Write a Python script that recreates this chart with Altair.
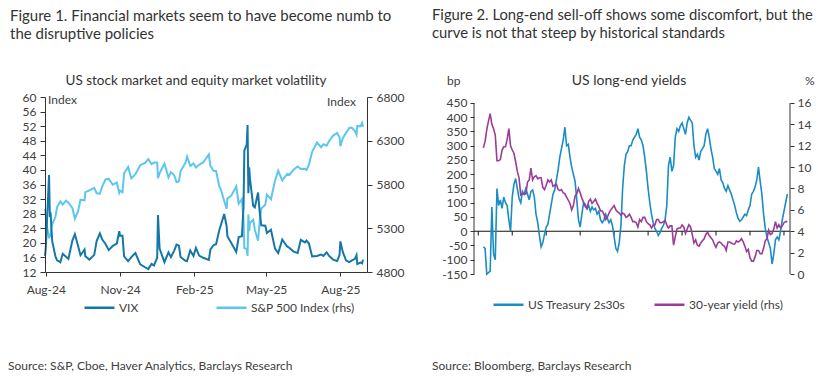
import altair as alt
import pandas as pd

FONT = "Lato"
TXT = "#333333"
LBL = "#404040"

# ---------------- Figure 1 data: VIX and S&P 500 ----------------
fig1_dates = [
    "2024-07-31", "2024-08-01", "2024-08-02", "2024-08-05", "2024-08-06", "2024-08-07", "2024-08-08",
    "2024-08-09", "2024-08-13", "2024-08-15", "2024-08-19", "2024-08-22", "2024-08-26", "2024-08-29",
    "2024-09-03", "2024-09-06", "2024-09-10", "2024-09-13", "2024-09-18", "2024-09-19", "2024-09-24",
    "2024-09-30", "2024-10-03", "2024-10-07", "2024-10-10", "2024-10-14", "2024-10-18", "2024-10-23",
    "2024-10-28", "2024-10-31", "2024-11-01", "2024-11-04", "2024-11-06", "2024-11-11", "2024-11-15",
    "2024-11-20", "2024-11-26", "2024-12-02", "2024-12-06", "2024-12-10", "2024-12-13", "2024-12-17",
    "2024-12-18", "2024-12-20", "2024-12-26", "2024-12-31", "2025-01-03", "2025-01-07", "2025-01-10",
    "2025-01-13", "2025-01-15", "2025-01-21", "2025-01-23", "2025-01-27", "2025-01-31", "2025-02-03",
    "2025-02-07", "2025-02-12", "2025-02-19", "2025-02-21", "2025-02-25", "2025-02-28", "2025-03-04",
    "2025-03-06", "2025-03-10", "2025-03-13", "2025-03-14", "2025-03-19", "2025-03-25", "2025-03-28",
    "2025-04-01", "2025-04-03", "2025-04-04", "2025-04-07", "2025-04-08", "2025-04-09", "2025-04-10",
    "2025-04-11", "2025-04-15", "2025-04-17", "2025-04-21", "2025-04-23", "2025-04-25", "2025-04-30",
    "2025-05-02", "2025-05-07", "2025-05-12", "2025-05-16", "2025-05-21", "2025-05-27", "2025-05-30",
    "2025-06-04", "2025-06-09", "2025-06-13", "2025-06-18", "2025-06-20", "2025-06-23", "2025-06-27",
    "2025-07-03", "2025-07-08", "2025-07-11", "2025-07-15", "2025-07-18", "2025-07-23", "2025-07-28",
    "2025-07-31", "2025-08-01", "2025-08-04", "2025-08-08", "2025-08-12", "2025-08-15", "2025-08-19",
    "2025-08-21", "2025-08-22", "2025-08-26", "2025-08-28", "2025-08-29",
]
vix = [
    16.4, 18.6, 23.4, 38.6, 27.7, 27.9, 23.8,
    20.4, 16.2, 15.2, 14.7, 17.0, 16.2, 15.6,
    20.7, 22.4, 19.1, 16.6, 18.2, 16.3, 15.4,
    16.7, 20.5, 22.6, 20.9, 19.7, 18.0, 19.2,
    19.8, 23.2, 21.9, 22.0, 16.3, 15.0, 16.1,
    17.2, 14.1, 13.3, 12.8, 14.2, 13.8, 15.9,
    27.6, 18.4, 14.7, 17.4, 16.1, 17.8, 19.5,
    19.2, 16.1, 15.1, 15.0, 17.9, 16.4, 18.6,
    16.5, 15.9, 15.3, 18.2, 19.4, 19.6, 23.5,
    24.9, 27.9, 24.7, 21.8, 19.9, 17.5, 21.6,
    21.8, 30.0, 45.3, 47.0, 52.3, 33.6, 40.7,
    37.6, 30.1, 29.7, 33.8, 28.5, 24.8, 24.7,
    22.7, 23.6, 18.4, 17.2, 20.9, 19.0, 18.6,
    17.6, 17.2, 20.8, 20.1, 20.6, 19.8, 16.3,
    16.4, 16.8, 16.4, 17.4, 16.4, 15.4, 15.0,
    16.7, 20.4, 17.5, 15.2, 14.7, 15.1, 15.6,
    16.6, 14.2, 14.6, 14.4, 15.4,
]
spx = [
    5522, 5446, 5346, 5186, 5240, 5199, 5319,
    5344, 5434, 5543, 5608, 5571, 5616, 5592,
    5529, 5408, 5496, 5626, 5618, 5713, 5732,
    5762, 5700, 5696, 5780, 5859, 5864, 5797,
    5823, 5705, 5729, 5712, 5929, 6001, 5870,
    5917, 6021, 6047, 6090, 6034, 6051, 6051,
    5872, 5930, 6037, 5882, 5942, 5909, 5827,
    5836, 5950, 6049, 6119, 6012, 6041, 5994,
    6026, 6052, 6144, 6013, 5955, 5955, 5778,
    5739, 5615, 5522, 5639, 5675, 5777, 5581,
    5633, 5397, 5074, 5062, 4983, 5457, 5268,
    5363, 5397, 5283, 5158, 5376, 5525, 5569,
    5686, 5631, 5844, 5958, 5845, 5922, 5912,
    5970, 6006, 5977, 5981, 5967, 6025, 6173,
    6279, 6226, 6260, 6244, 6297, 6359, 6390,
    6339, 6238, 6330, 6389, 6446, 6450, 6411,
    6370, 6467, 6465, 6502, 6460,
]
fig1_series = ["VIX", "S&P 500 Index (rhs)"]
fig1_colors = ["#1577a8", "#5cc6ee"]
fig1_month_ticks = ["2024-08-01", "2024-11-01", "2025-02-01", "2025-05-01", "2025-08-01"]
fig1_range = ["2024-07-31", "2025-09-03"]
vix_ticks = [12, 16, 20, 24, 28, 32, 36, 40, 44, 48, 52, 56, 60]
spx_ticks = [4800, 5300, 5800, 6300, 6800]

# ---------------- Figure 2 data: 2s30s and 30y yield (quarterly, from 1980Q4) ----------------
spread_2s30s = [
    -55,
    -60, -150, -145, -140,   # 1981
    85, -80, -100, 150,      # 1982
    90, 110, 80, 120,        # 1983
    100, 90, 40, 0,          # 1984
    120, 165, 185, 150,      # 1985
    115, 100, 140, 130,      # 1986
    150, 130, 110, 140,      # 1987
    145, 120, 60, 30,        # 1988
    -15, -55, -40, -10,      # 1989
    15, 25, 60, 95,          # 1990
    130, 145, 180, 215,      # 1991
    260, 290, 320, 365,      # 1992
    300, 305, 260, 225,      # 1993
    200, 175, 110, 40,       # 1994
    15, 60, 100, 95,         # 1995
    80, 90, 70, 85,          # 1996
    75, 80, 60, 70,          # 1997
    40, 30, 40, 60,          # 1998
    45, 30, 40, 20,          # 1999
    -20, -60, -70, -40,      # 2000
    20, 150, 230, 270,       # 2001
    280, 300, 300, 320,      # 2002
    330, 340, 360, 330,      # 2003
    320, 300, 260, 210,      # 2004
    150, 100, 60, 30,        # 2005
    10, 0, -15, -5,          # 2006
    10, 20, 40, 90,          # 2007
    230, 260, 210, 230,      # 2008
    330, 360, 350, 370,      # 2009
    380, 360, 340, 380,      # 2010
    400, 390, 380, 300,      # 2011
    260, 270, 250, 280,      # 2012
    290, 300, 340, 360,      # 2013
    330, 290, 260, 220,      # 2014
    210, 200, 220, 180,      # 2015
    170, 150, 140, 160,      # 2016
    145, 130, 110, 90,       # 2017
    65, 45, 35, 40,          # 2018
    50, 60, 55, 75,          # 2019
    90, 130, 140, 155,       # 2020
    180, 225, 175, 130,      # 2021
    60, 10, -20, -40,        # 2022
    -60, -115, -80, -30,     # 2023
    -20, -30, 0, 40,         # 2024
    70, 100, 130,            # 2025
]
yield_30y = [
    11.8,
    12.4, 13.5, 14.3, 15.0,  # 1981
    14.0, 13.6, 13.0, 10.6,  # 1982
    10.6, 10.7, 11.6, 11.9,  # 1983
    11.9, 12.6, 13.6, 12.0,  # 1984
    11.6, 11.3, 10.5, 9.6,   # 1985
    9.0, 7.4, 7.5, 7.5,      # 1986
    7.5, 8.6, 8.8, 9.9,      # 1987
    8.8, 9.1, 9.2, 8.9,      # 1988
    9.0, 9.0, 8.1, 7.9,      # 1989
    8.3, 8.8, 8.6, 8.8,      # 1990
    8.2, 8.3, 8.4, 7.9,      # 1991
    7.8, 7.9, 7.6, 7.5,      # 1992
    7.2, 6.9, 6.6, 6.0,      # 1993
    6.4, 7.3, 7.5, 8.0,      # 1994
    7.6, 7.1, 6.7, 6.3,      # 1995
    6.1, 6.8, 7.0, 6.6,      # 1996
    6.8, 7.0, 6.6, 6.3,      # 1997
    5.9, 5.9, 5.6, 5.1,      # 1998
    5.3, 5.7, 6.0, 6.2,      # 1999
    6.4, 6.0, 5.8, 5.7,      # 2000
    5.5, 5.7, 5.6, 5.3,      # 2001
    5.4, 5.6, 5.3, 4.9,      # 2002
    4.9, 4.8, 4.4, 5.1,      # 2003
    4.9, 5.3, 5.3, 4.9,      # 2004
    4.7, 4.6, 4.3, 4.6,      # 2005
    4.6, 5.1, 5.1, 4.8,      # 2006
    4.8, 4.9, 5.0, 4.6,      # 2007
    4.3, 4.5, 4.5, 2.7,      # 2008
    3.5, 4.2, 4.3, 4.3,      # 2009
    4.6, 4.4, 3.8, 4.2,      # 2010
    4.6, 4.4, 3.7, 2.9,      # 2011
    3.2, 2.7, 2.6, 2.9,      # 2012
    3.1, 3.3, 3.7, 3.9,      # 2013
    3.6, 3.4, 3.2, 2.8,      # 2014
    2.5, 2.9, 3.0, 2.9,      # 2015
    2.7, 2.6, 2.2, 3.0,      # 2016
    3.0, 2.9, 2.8, 2.8,      # 2017
    3.1, 3.0, 3.1, 3.3,      # 2018
    3.0, 2.6, 2.1, 2.3,      # 2019
    1.5, 1.2, 1.2, 1.6,      # 2020
    2.2, 2.2, 1.9, 1.9,      # 2021
    2.4, 3.1, 3.3, 4.1,      # 2022
    3.7, 3.8, 4.2, 4.9,      # 2023
    4.3, 4.6, 4.3, 4.5,      # 2024
    4.8, 4.9, 4.9,           # 2025
]
quarters = [1980.75 + 0.25 * i for i in range(len(spread_2s30s))]
fig2_series = ["US Treasury 2s30s", "30-year yield (rhs)"]
fig2_colors = ["#1a8dc2", "#9a3c98"]
year_ticks = [1980, 1985, 1990, 1995, 2000, 2005, 2010, 2015, 2020, 2025]
bp_ticks = [-150, -100, -50, 0, 50, 100, 150, 200, 250, 300, 350, 400, 450]
pct_ticks = [0, 2, 4, 6, 8, 10, 12, 14, 16]

# ---------------- helpers ----------------
one = pd.DataFrame({"k": [0]})


def ms(d):
    return int(pd.Timestamp(d, tz="UTC").value // 10**6)


def label(text, x, y, size=12, align="left", color=TXT):
    return alt.Chart(one).mark_text(
        text=text, align=align, baseline="middle", font=FONT, fontSize=size, color=color
    ).encode(x=alt.value(x), y=alt.value(y))


axis_style = dict(
    labelFont=FONT, labelFontSize=12, labelColor=LBL, domainColor="#333333",
    tickColor="#333333", grid=False, title=None, zindex=1,
)


def make_legend(x, y, pad):
    return alt.Legend(
        orient="none", legendX=x, legendY=y, direction="horizontal", title=None,
        symbolType="stroke", symbolSize=900, symbolStrokeWidth=2.5, labelFont=FONT,
        labelFontSize=12, labelColor=LBL, columnPadding=pad, labelOffset=3,
    )


# ---------------- Figure 1 panel ----------------
W1, H1 = 322, 175
df1 = pd.DataFrame({"date": [ms(d) for d in fig1_dates], "vix": vix, "spx": spx})
x1_vals = [ms(d) for d in fig1_month_ticks]
color1 = alt.Scale(domain=fig1_series, range=fig1_colors)


def x1_enc():
    return alt.X(
        "date:T",
        scale=alt.Scale(type="utc", domain=[ms(d) for d in fig1_range]),
        axis=alt.Axis(values=x1_vals, labelExpr="utcFormat(datum.value, '%b-%y')",
                      labelAngle=0, labelFlush=False, tickSize=4, labelPadding=8, **axis_style),
    )


# invisible frame that fixes the overall canvas bounds
frame = alt.Chart(one).mark_rect(fill="white", fillOpacity=0).encode(
    x=alt.value(-45), x2=alt.value(773), y=alt.value(-97), y2=alt.value(280)
)

vix_line = alt.Chart(df1).transform_calculate(series="'VIX'").mark_line(strokeWidth=2).encode(
    x=x1_enc(),
    y=alt.Y("vix:Q", scale=alt.Scale(domain=[12, 60], nice=False, zero=False),
            axis=alt.Axis(orient="left", values=vix_ticks, tickSize=5, labelPadding=4, **axis_style)),
    color=alt.Color("series:N", scale=color1, legend=make_legend(38, 194, 72)),
)

spx_line = alt.Chart(df1).transform_calculate(series="'S&P 500 Index (rhs)'").mark_line(
    strokeWidth=2
).encode(
    x=x1_enc(),
    y=alt.Y("spx:Q", scale=alt.Scale(domain=[4800, 6800], nice=False, zero=False),
            axis=alt.Axis(orient="right", values=spx_ticks, format="d", tickSize=5, labelPadding=4,
                          **axis_style)),
    color=alt.Color("series:N", scale=color1, legend=make_legend(38, 194, 72)),
)

left = alt.layer(
    frame, spx_line, vix_line,
    label("Figure 1. Financial markets seem to have become numb to", -35, -81, size=15),
    label("the disruptive policies", -35, -63, size=15),
    label("US stock market and equity market volatility", 151, -16, size=13.5, align="center"),
    label("Index", 3, 3, size=12, color=LBL),
    label("Index", 282, 5, size=12, color=LBL),
    label("Source: S&P, Cboe, Haver Analytics, Barclays Research", -37, 269, size=12, color=LBL),
).resolve_scale(y="independent").properties(width=W1, height=H1)

# ---------------- Figure 2 panel ----------------
W2, H2 = 316, 177
df2 = pd.DataFrame({"year": quarters, "spread": spread_2s30s, "y30": yield_30y})
x2_scale = alt.Scale(domain=[1979.37, 2025.89], nice=False, zero=False)
bp_scale = alt.Scale(domain=[-150, 471], nice=False, zero=False)
pct_scale = alt.Scale(domain=[0, 16.56], nice=False, zero=False)
color2 = alt.Scale(domain=fig2_series, range=fig2_colors)

zero_df = pd.DataFrame({"v": [0]})
ticks_df = pd.DataFrame({"yr": year_ticks, "y0": [0] * len(year_ticks), "y1": [-15] * len(year_ticks)})
axis_df = pd.DataFrame({"a": [-150], "b": [450]})

zero_rule = alt.Chart(zero_df).mark_rule(color="#111111", strokeWidth=1).encode(
    y=alt.Y("v:Q", scale=bp_scale, axis=None)
)
tick_rules = alt.Chart(ticks_df).mark_rule(color="#111111", strokeWidth=1).encode(
    x=alt.X("yr:Q", scale=x2_scale, axis=None),
    y=alt.Y("y0:Q", scale=bp_scale, axis=None),
    y2="y1:Q",
)
left_axis_line = alt.Chart(axis_df).mark_rule(color="#333333", strokeWidth=1).encode(
    x=alt.value(0), y=alt.Y("a:Q", scale=bp_scale, axis=None), y2="b:Q"
)
right_axis_line = alt.Chart(axis_df).mark_rule(color="#333333", strokeWidth=1).encode(
    x=alt.value(W2), y=alt.Y("a:Q", scale=bp_scale, axis=None), y2="b:Q"
)

spread_line = alt.Chart(df2).transform_calculate(series="'US Treasury 2s30s'").mark_line(
    strokeWidth=1.6
).encode(
    x=alt.X("year:Q", scale=x2_scale,
            axis=alt.Axis(values=year_ticks, domain=False, ticks=False, labelPadding=17,
                          labelFlush=False,
                          labelExpr="(datum.value % 100 < 10 ? '0' : '') + (datum.value % 100)",
                          **axis_style)),
    y=alt.Y("spread:Q", scale=bp_scale,
            axis=alt.Axis(orient="left", values=bp_ticks, domain=False, tickSize=4, labelPadding=3,
                          labelExpr="'' + datum.value", **axis_style)),
    color=alt.Color("series:N", scale=color2, legend=make_legend(18, 191, 23)),
)
yield_line = alt.Chart(df2).transform_calculate(series="'30-year yield (rhs)'").mark_line(
    strokeWidth=1.6
).encode(
    x=alt.X("year:Q", scale=x2_scale, axis=None),
    y=alt.Y("y30:Q", scale=pct_scale,
            axis=alt.Axis(orient="right", values=pct_ticks, domain=False, tickSize=4, labelPadding=3,
                          **axis_style)),
    color=alt.Color("series:N", scale=color2, legend=make_legend(18, 191, 23)),
)

right = alt.layer(
    zero_rule, tick_rules, left_axis_line, right_axis_line, spread_line, yield_line,
    label("Figure 2. Long-end sell-off shows some discomfort, but the", -42, -81, size=14.8),
    label("curve is not that steep by historical standards", -42, -63, size=14.8),
    label("US long-end yields", 155, -16, size=14, align="center"),
    label("bp", -27, -16, size=12, color=LBL),
    label("%", 331, -16, size=12, color=LBL),
    label("Source: Bloomberg, Barclays Research", -42, 269, size=12, color=LBL),
).resolve_scale(y="independent").properties(width=W2, height=H2)

chart = alt.hconcat(left, right, spacing=107, bounds="flush").resolve_scale(
    x="independent", y="independent", color="independent"
).resolve_legend(color="independent").properties(
    padding=0, background="white"
).configure_view(stroke=None)

chart.save("out.html", embed_options={"renderer": "svg", "actions": False})
